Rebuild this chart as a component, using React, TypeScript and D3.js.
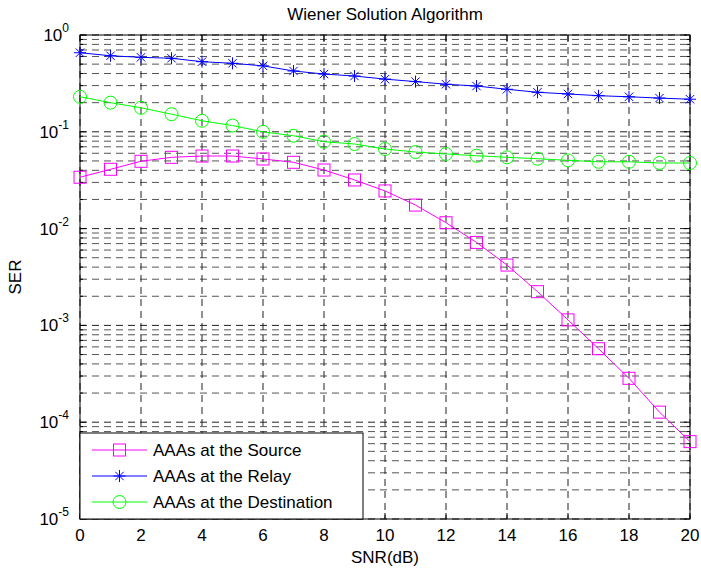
import * as d3 from "d3";
import { useEffect, useRef } from "react";

// ---- data ----
const snr = [0, 1, 2, 3, 4, 5, 6, 7, 8, 9, 10, 11, 12, 13, 14, 15, 16, 17, 18, 19, 20];
const source = [0.0339, 0.041, 0.0496, 0.0545, 0.0562, 0.0562, 0.0524, 0.0484, 0.0403, 0.0318, 0.0245, 0.0175, 0.0115, 0.0072, 0.0042, 0.00223, 0.00114, 0.000574, 0.000284, 0.000127, 0.000063];
const relay = [0.656, 0.61, 0.588, 0.575, 0.53, 0.51, 0.48, 0.425, 0.395, 0.377, 0.35, 0.33, 0.31, 0.297, 0.275, 0.256, 0.246, 0.236, 0.23, 0.223, 0.217];
const destination = [0.23, 0.2, 0.177, 0.152, 0.13, 0.116, 0.1, 0.091, 0.079, 0.0748, 0.0664, 0.0618, 0.059, 0.0566, 0.0545, 0.0527, 0.0507, 0.049, 0.049, 0.0476, 0.0476];
const seriesNames = ["AAAs at the Source", "AAAs at the Relay", "AAAs at the Destination"];
const xTicks = [0, 2, 4, 6, 8, 10, 12, 14, 16, 18, 20];
const yExps = [0, -1, -2, -3, -4, -5];

export default function App() {
    const ref = useRef<SVGSVGElement | null>(null);

    useEffect(() => {
        const width = 701;
        const height = 573;
        const margin = { top: 35, right: 11, bottom: 54, left: 80 };
        const innerW = width - margin.left - margin.right;
        const innerH = height - margin.top - margin.bottom;
        const font = "'Liberation Sans', Arial, sans-serif";
        const fs = 17;

        const svg = d3.select(ref.current);
        svg.selectAll("*").remove();
        svg.attr("viewBox", `0 0 ${width} ${height}`);

        const g = svg.append("g").attr("transform", `translate(${margin.left},${margin.top})`);

        const x = d3.scaleLinear().domain([0, 20]).range([0, innerW]);
        const y = d3.scaleLog().domain([1e-5, 1]).range([innerH, 0]);

        // ---- grid ----
        const minor: number[] = [];
        for (let e = -5; e < 0; e++) {
            for (let k = 1; k < 10; k++) minor.push(k * Math.pow(10, e));
        }
        minor.push(1);
        const isMajor = (d: number) => Math.abs(Math.log10(d) - Math.round(Math.log10(d))) < 1e-9;

        g.append("g")
            .selectAll("line")
            .data(minor)
            .join("line")
            .attr("x1", 0)
            .attr("x2", innerW)
            .attr("y1", (d) => y(d))
            .attr("y2", (d) => y(d))
            .attr("stroke", (d) => (isMajor(d) ? "#222" : "#555"))
            .attr("stroke-width", 1)
            .attr("stroke-dasharray", "7,5");

        g.append("g")
            .selectAll("line")
            .data(xTicks)
            .join("line")
            .attr("x1", (d) => x(d))
            .attr("x2", (d) => x(d))
            .attr("y1", 0)
            .attr("y2", innerH)
            .attr("stroke", "#222")
            .attr("stroke-dasharray", "7,5");

        // ---- frame & ticks ----
        g.append("rect")
            .attr("width", innerW)
            .attr("height", innerH)
            .attr("fill", "none")
            .attr("stroke", "#000");

        const tk = g.append("g").attr("stroke", "#000");
        xTicks.forEach((t) => {
            tk.append("line").attr("x1", x(t)).attr("x2", x(t)).attr("y1", innerH).attr("y2", innerH - 6);
            tk.append("line").attr("x1", x(t)).attr("x2", x(t)).attr("y1", 0).attr("y2", 6);
        });
        minor.forEach((m) => {
            const len = isMajor(m) ? 6 : 3;
            tk.append("line").attr("x1", 0).attr("x2", len).attr("y1", y(m)).attr("y2", y(m));
            tk.append("line").attr("x1", innerW).attr("x2", innerW - len).attr("y1", y(m)).attr("y2", y(m));
        });

        // ---- tick labels ----
        g.append("g")
            .selectAll("text")
            .data(xTicks)
            .join("text")
            .attr("x", (d) => x(d))
            .attr("y", innerH + 22)
            .attr("text-anchor", "middle")
            .attr("font-family", font)
            .attr("font-size", fs)
            .text((d) => d);

        const yl = g.append("g").attr("font-family", font).attr("font-size", fs);
        yExps.forEach((e) => {
            const t = yl.append("text")
                .attr("x", -11)
                .attr("y", y(Math.pow(10, e)) + 6)
                .attr("text-anchor", "end");
            t.append("tspan").text("10");
            t.append("tspan").attr("dy", -9).attr("font-size", 12).text(String(e));
        });

        // ---- lines & markers ----
        const line = d3.line<number>().x((_, i) => x(snr[i])).y((d) => y(d));
        const series = [
            { data: source, color: "#ff00ff", marker: "square" },
            { data: relay, color: "#0000ff", marker: "star" },
            { data: destination, color: "#00ff00", marker: "circle" },
        ];

        const drawMarker = (sel: any, kind: string, cx: number, cy: number, color: string) => {
            if (kind === "square") {
                sel.append("rect").attr("x", cx - 6).attr("y", cy - 6).attr("width", 12).attr("height", 12)
                    .attr("fill", "none").attr("stroke", color).attr("stroke-width", 1);
            } else if (kind === "circle") {
                sel.append("circle").attr("cx", cx).attr("cy", cy).attr("r", 6.5)
                    .attr("fill", "none").attr("stroke", color).attr("stroke-width", 1);
            } else {
                const r = 6;
                const d = r * 0.7;
                sel.append("path")
                    .attr("d", `M${cx - r},${cy}H${cx + r}M${cx},${cy - r}V${cy + r}M${cx - d},${cy - d}L${cx + d},${cy + d}M${cx - d},${cy + d}L${cx + d},${cy - d}`)
                    .attr("stroke", color).attr("stroke-width", 1).attr("fill", "none");
            }
        };

        series.forEach((s) => {
            g.append("path")
                .datum(s.data)
                .attr("d", line)
                .attr("fill", "none")
                .attr("stroke", s.color)
                .attr("stroke-width", 1);
            const mg = g.append("g");
            s.data.forEach((v, i) => drawMarker(mg, s.marker, x(snr[i]), y(v), s.color));
        });

        // ---- legend ----
        const lg = g.append("g").attr("transform", `translate(0,${innerH - 86})`);
        lg.append("rect").attr("width", 283).attr("height", 86).attr("fill", "#fff").attr("stroke", "#000");
        series.forEach((s, i) => {
            const ly = 17 + i * 26;
            lg.append("line").attr("x1", 12).attr("x2", 67).attr("y1", ly).attr("y2", ly)
                .attr("stroke", s.color).attr("stroke-width", 1);
            drawMarker(lg, s.marker, 39.5, ly, s.color);
            lg.append("text")
                .attr("x", 73)
                .attr("y", ly + 6)
                .attr("font-family", font)
                .attr("font-size", fs)
                .text(seriesNames[i]);
        });

        // ---- titles ----
        svg.append("text")
            .attr("x", margin.left + innerW / 2)
            .attr("y", 20)
            .attr("text-anchor", "middle")
            .attr("font-family", font)
            .attr("font-size", fs)
            .text("Wiener Solution Algorithm");

        svg.append("text")
            .attr("x", margin.left + innerW / 2)
            .attr("y", height - 10)
            .attr("text-anchor", "middle")
            .attr("font-family", font)
            .attr("font-size", fs)
            .text("SNR(dB)");

        svg.append("text")
            .attr("transform", `translate(21,${margin.top + innerH / 2}) rotate(-90)`)
            .attr("text-anchor", "middle")
            .attr("font-family", font)
            .attr("font-size", fs)
            .text("SER");
    }, []);

    return (
        <svg
            ref={ref}
            width={701}
            height={573}
            style={{ position: "absolute", left: 0, top: 0, background: "#fff" }}
        />
    );
}
